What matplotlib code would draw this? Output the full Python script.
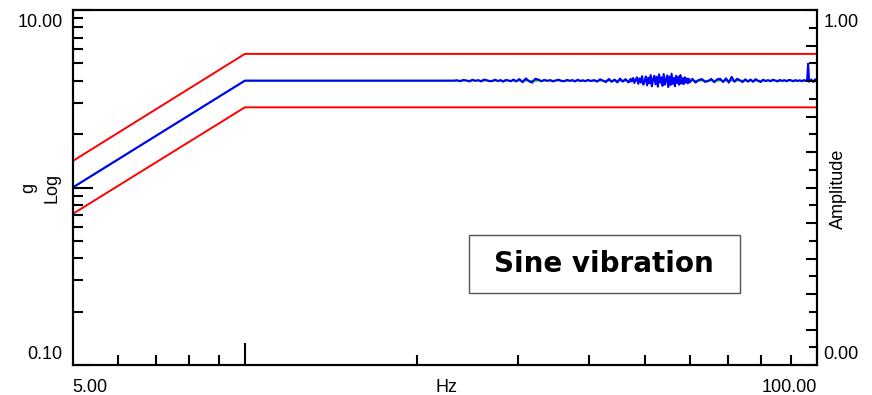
import matplotlib
matplotlib.use("Agg")
import matplotlib.pyplot as plt
from matplotlib.patches import Rectangle
from matplotlib.ticker import FixedLocator, NullFormatter

plt.rcParams['font.family'] = ['Liberation Sans', 'DejaVu Sans']

# reference profile (g vs Hz) and +/-3 dB abort limits
profile_freq = [5.0, 10.0, 100.0]
profile_g = [1.0, 4.0, 4.0]
upper_g = [1.41, 5.66, 5.66]
lower_g = [0.71, 2.83, 2.83]

# measured control signal: clean up to ~23 Hz, then noisy
sweep_freq = [5.0, 10.0, 23.2]
sweep_g = [1.0, 4.0, 4.0]

noisy_freq = [
    23.5, 23.8, 24.1, 24.4, 24.7, 25.0, 25.3, 25.6, 25.9, 26.2, 26.5,
    26.8, 27.1, 27.4, 27.7, 28.0, 28.3, 28.6, 28.9, 29.2, 29.5, 29.8,
    30.2, 30.6, 31.0, 31.4, 31.8, 32.2, 32.6, 33.0, 33.4, 33.8, 34.2,
    34.6, 35.0, 35.4, 35.8, 36.2, 36.6, 37.0, 37.4, 37.8, 38.2, 38.6,
    39.0, 39.4, 39.8,
    40.3, 40.8, 41.3, 41.8, 42.3, 42.8, 43.3, 43.8, 44.3, 44.8, 45.3,
    45.8, 46.3, 46.8,
    47.0, 47.25, 47.5, 47.75, 48.0, 48.25, 48.5, 48.75, 49.0, 49.25,
    49.5, 49.75, 50.0, 50.25, 50.5, 50.75, 51.0, 51.25, 51.5, 51.75,
    52.0, 52.25, 52.5, 52.75, 53.0, 53.25, 53.5, 53.75, 54.0, 54.25,
    54.5, 54.75, 55.0, 55.25, 55.5, 55.75, 56.0, 56.25, 56.5, 56.75,
    57.0, 57.25, 57.5, 57.75, 58.0, 58.25, 58.5, 58.75, 59.0, 59.25,
    59.5, 59.75, 60.0,
    60.6, 61.4, 62.2, 63.0, 63.8, 64.6, 65.4, 66.2, 67.0, 67.8, 68.6,
    69.4, 70.2, 71.0, 71.8, 72.6, 73.4, 74.2, 75.0, 75.8, 76.6, 77.4,
    78.2, 79.0, 79.8, 80.6, 81.4, 82.2, 83.0, 83.8, 84.6, 85.4, 86.2,
    87.0, 87.8, 88.6, 89.4, 90.2, 91.0, 91.8, 92.6, 93.4, 94.2, 95.0,
    95.8, 96.2, 96.6, 97.0, 97.8, 98.6, 99.4, 100.0,
]
noisy_g = [
    4.02, 3.97, 4.04, 4.01, 3.96, 4.05, 3.99, 4.03, 3.96, 4.06, 4.02,
    3.97, 3.99, 4.05, 3.98, 4.03, 3.95, 4.04, 4.01, 3.97, 4.06, 3.96,
    4.08, 3.92, 4.12, 3.97, 3.90, 4.10, 4.06, 3.97, 4.04, 3.99, 4.03,
    3.96, 4.02, 4.05, 3.98, 3.97, 4.04, 3.99, 4.03, 3.96, 4.05, 3.98,
    4.02, 3.97, 4.04,
    3.98, 4.03, 3.95, 4.07, 4.00, 3.93, 4.09, 3.94, 4.06, 3.91, 4.11,
    3.95, 4.08, 3.92,
    3.93, 4.10, 3.96, 4.14, 3.88, 4.06, 4.18, 3.84, 4.12, 3.90,
    4.24, 3.80, 3.98, 4.22, 3.76, 4.16, 3.86, 4.30, 3.72, 4.08,
    4.26, 3.82, 4.20, 3.70, 4.34, 3.90, 4.18, 3.74, 4.36, 3.80,
    4.02, 4.28, 3.68, 4.22, 3.78, 4.38, 3.84, 4.14, 3.72, 4.26,
    3.88, 4.20, 3.80, 4.30, 3.86, 4.12, 3.82, 4.18, 3.90, 4.12,
    3.86, 4.10, 3.92,
    4.10, 3.90, 4.04, 4.08, 3.94, 3.98, 4.09, 3.92, 4.07, 4.10, 3.93,
    4.12, 3.90, 4.20, 3.94, 4.10, 4.02, 3.93, 4.07, 3.95, 4.06, 3.94,
    4.08, 3.99, 3.93, 4.05, 3.98, 4.03, 3.97, 4.05, 4.01, 3.96, 4.04,
    3.98, 4.03, 3.97, 4.04, 4.02, 3.97, 4.03, 3.98, 4.02, 3.97, 4.03,
    3.98, 4.01, 4.98, 3.95, 4.06, 3.93, 4.07, 3.94,
]

amp_major = [0.0, 0.1, 0.2, 0.3, 0.4, 0.5, 0.6, 0.7, 0.8, 0.9, 1.0]
amp_minor = [0.05, 0.15, 0.25, 0.35, 0.45, 0.55, 0.65, 0.75, 0.85, 0.95]

fig = plt.figure(figsize=(8.72, 3.95), dpi=100)
ax = fig.add_axes([0.0834, 0.0759, 0.8532, 0.8987])

ax.plot(profile_freq, profile_g, color='#00c000', lw=1.2)
ax.plot(profile_freq, upper_g, color='#ff0000', lw=1.4)
ax.plot(profile_freq, lower_g, color='#ff0000', lw=1.4)
ax.plot(sweep_freq + noisy_freq, sweep_g + noisy_g, color='#0000ff', lw=1.5)

ax.set_xscale('log')
ax.set_yscale('log')
ax.set_xlim(5, 100)
ax.set_ylim(0.1, 10)

ax.xaxis.set_major_locator(FixedLocator([10, 100]))
ax.xaxis.set_minor_locator(FixedLocator([6, 7, 8, 9, 20, 30, 40, 50, 60, 70, 80, 90]))
ax.yaxis.set_major_locator(FixedLocator([0.1, 1, 10]))
ax.yaxis.set_minor_locator(FixedLocator([0.2, 0.3, 0.4, 0.5, 0.6, 0.7, 0.8, 0.9,
                                         2, 3, 4, 5, 6, 7, 8, 9]))
for axis in (ax.xaxis, ax.yaxis):
    axis.set_major_formatter(NullFormatter())
    axis.set_minor_formatter(NullFormatter())

ax.tick_params(which='both', direction='in', width=1.5, color='black', top=False, right=False)
ax.tick_params(axis='x', which='major', length=16)
ax.tick_params(axis='y', which='major', length=14.5)
ax.tick_params(which='minor', length=7.2)

ax2 = ax.twinx()
ax2.set_ylim(0, 1)
ax2.yaxis.set_major_locator(FixedLocator(amp_major))
ax2.yaxis.set_minor_locator(FixedLocator(amp_minor))
ax2.yaxis.set_major_formatter(NullFormatter())
ax2.yaxis.set_minor_formatter(NullFormatter())
ax2.tick_params(which='both', direction='in', width=1.5, color='black')
ax2.tick_params(which='major', length=8)
ax2.tick_params(which='minor', length=5.5)

for a in (ax, ax2):
    for s in a.spines.values():
        s.set_linewidth(1.5)
        s.set_color('black')

fs = 13
def label(text, xy, off, ha):
    ax.annotate(text, xy=xy, xycoords='axes fraction', xytext=off,
                textcoords='offset pixels', ha=ha, va='baseline', fontsize=fs)

label('10.00', (0, 1), (-10, -17), 'right')
label('0.10', (0, 0), (-10, 6), 'right')
label('1.00', (1, 1), (7, -17), 'left')
label('0.00', (1, 0), (7, 6), 'left')
label('5.00', (0, 0), (0, -27), 'left')
label('100.00', (1, 0), (0, -27), 'right')
label('Hz', (0.5, 0), (2, -27), 'center')

fig.text(28.5 / 872, 1 - 187.5 / 395, 'g', rotation=90, ha='center', va='center', fontsize=fs)
fig.text(51.7 / 872, 1 - 187.5 / 395, 'Log', rotation=90, ha='center', va='center', fontsize=fs)
fig.text(838 / 872, 1 - 189 / 395, 'Amplitude', rotation=90, ha='center', va='center', fontsize=fs)

ax2.add_patch(Rectangle((0.532, 0.202), 0.365, 0.164, transform=ax2.transAxes,
                        facecolor='white', edgecolor='#555555', lw=1.0, zorder=5))
ax2.text(0.714, 0.285, 'Sine vibration', transform=ax2.transAxes, ha='center', va='center',
         fontsize=20, fontweight='bold', family='DejaVu Sans', zorder=6)

fig.savefig('out.png', dpi=100)
